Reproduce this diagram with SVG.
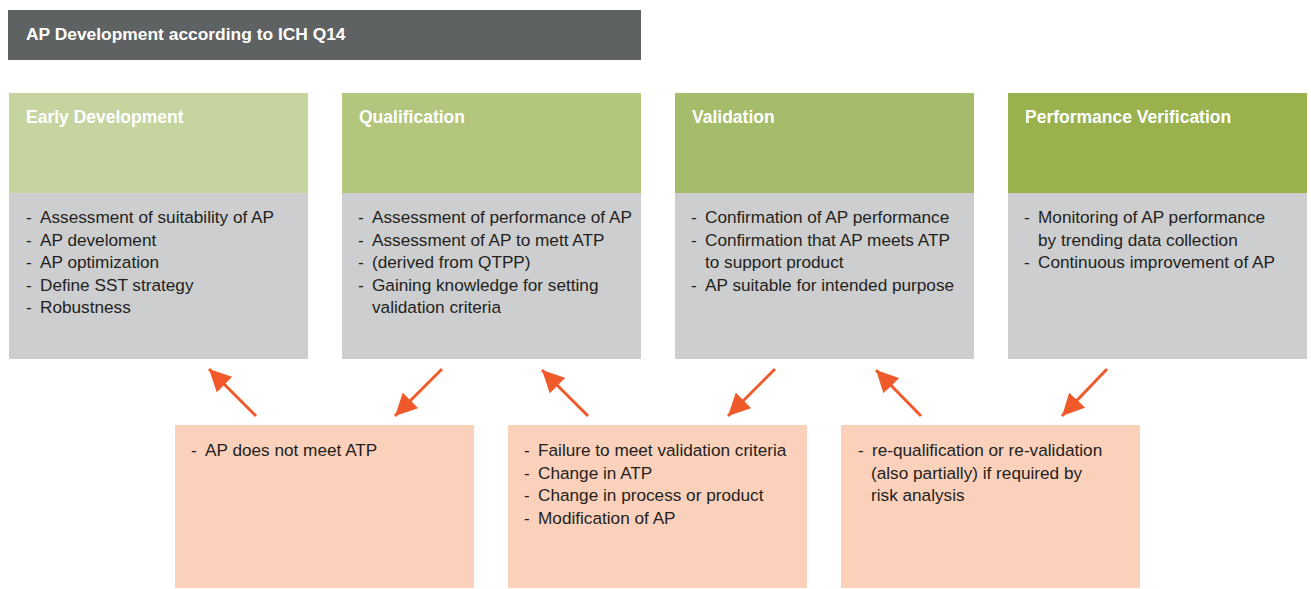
<svg xmlns="http://www.w3.org/2000/svg" width="1311" height="589" viewBox="0 0 1311 589">
<style>
.t{font-family:"Liberation Sans",Arial,sans-serif;font-size:17.2px;fill:#231f20}
.h{font-family:"Liberation Sans",Arial,sans-serif;font-size:17.5px;font-weight:bold;fill:#ffffff}
.body{fill:#cdcecf}
.low{fill:#fbd1bb}
.arr{stroke:#f05a2b;stroke-width:3;fill:none;marker-end:url(#ah)}
</style>
<defs>
<marker id="ah" markerUnits="userSpaceOnUse" markerWidth="24" markerHeight="22" refX="22" refY="11" orient="auto">
<path d="M0,0 L22,11 L0,22 Z" fill="#f05a2b"/>
</marker>
</defs>
<rect width="1311" height="589" fill="#ffffff"/>
<g id="title">
<rect x="8" y="10" width="633" height="50" fill="#5f6262"/>
<text class="h" x="26" y="40" style="font-size:17.4px">AP Development according to ICH Q14</text>
</g>
<g id="early">
<rect x="9" y="93" width="299" height="100" fill="#c6d4a0"/>
<rect class="body" x="9" y="193" width="299" height="166"/>
<text class="h" x="26" y="123">Early Development</text>
<text class="t"><tspan x="26" y="223">-</tspan><tspan x="40" y="223">Assessment of suitability of AP</tspan>
<tspan x="26" y="246">-</tspan><tspan x="40" y="246">AP develoment</tspan>
<tspan x="26" y="268">-</tspan><tspan x="40" y="268">AP optimization</tspan>
<tspan x="26" y="291">-</tspan><tspan x="40" y="291">Define SST strategy</tspan>
<tspan x="26" y="313">-</tspan><tspan x="40" y="313">Robustness</tspan></text>
</g>
<g id="qualification">
<rect x="342" y="93" width="299" height="100" fill="#b2c67d"/>
<rect class="body" x="342" y="193" width="299" height="166"/>
<text class="h" x="359" y="123">Qualification</text>
<text class="t"><tspan x="358" y="223">-</tspan><tspan x="372" y="223">Assessment of performance of AP</tspan>
<tspan x="358" y="246">-</tspan><tspan x="372" y="246">Assessment of AP to mett ATP</tspan>
<tspan x="358" y="268">-</tspan><tspan x="372" y="268">(derived from QTPP)</tspan>
<tspan x="358" y="291">-</tspan><tspan x="372" y="291">Gaining knowledge for setting</tspan>
<tspan x="372" y="313">validation criteria</tspan></text>
</g>
<g id="validation">
<rect x="675" y="93" width="299" height="100" fill="#a5bc6a"/>
<rect class="body" x="675" y="193" width="299" height="166"/>
<text class="h" x="692" y="123">Validation</text>
<text class="t"><tspan x="691" y="223">-</tspan><tspan x="705" y="223">Confirmation of AP performance</tspan>
<tspan x="691" y="246">-</tspan><tspan x="705" y="246">Confirmation that AP meets ATP</tspan>
<tspan x="705" y="268">to support product</tspan>
<tspan x="691" y="291">-</tspan><tspan x="705" y="291">AP suitable for intended purpose</tspan></text>
</g>
<g id="performance">
<rect x="1008" y="93" width="299" height="100" fill="#99b24e"/>
<rect class="body" x="1008" y="193" width="299" height="166"/>
<text class="h" x="1025" y="123">Performance Verification</text>
<text class="t"><tspan x="1024" y="223">-</tspan><tspan x="1038" y="223">Monitoring of AP performance</tspan>
<tspan x="1038" y="246">by trending data collection</tspan>
<tspan x="1024" y="268">-</tspan><tspan x="1038" y="268">Continuous improvement of AP</tspan></text>
</g>
<g id="fail1">
<rect class="low" x="175" y="425" width="299" height="163"/>
<text class="t"><tspan x="191" y="456">-</tspan><tspan x="205" y="456">AP does not meet ATP</tspan></text>
</g>
<g id="fail2">
<rect class="low" x="508" y="425" width="299" height="163"/>
<text class="t"><tspan x="524" y="456">-</tspan><tspan x="538" y="456">Failure to meet validation criteria</tspan>
<tspan x="524" y="479">-</tspan><tspan x="538" y="479">Change in ATP</tspan>
<tspan x="524" y="501">-</tspan><tspan x="538" y="501">Change in process or product</tspan>
<tspan x="524" y="524">-</tspan><tspan x="538" y="524">Modification of AP</tspan></text>
</g>
<g id="fail3">
<rect class="low" x="841" y="425" width="299" height="163"/>
<text class="t"><tspan x="858" y="456">-</tspan><tspan x="872" y="456">re-qualification or re-validation</tspan>
<tspan x="871" y="479">(also partially) if required by</tspan>
<tspan x="871" y="501">risk analysis</tspan></text>
</g>
<g id="connectors">
<line class="arr" x1="256" y1="416" x2="209" y2="369"/>
<line class="arr" x1="442" y1="369" x2="395" y2="416"/>
<line class="arr" x1="588" y1="416" x2="542" y2="370"/>
<line class="arr" x1="775" y1="369" x2="728" y2="416"/>
<line class="arr" x1="921" y1="416" x2="876" y2="370"/>
<line class="arr" x1="1107" y1="369" x2="1062" y2="416"/>
</g>
</svg>
